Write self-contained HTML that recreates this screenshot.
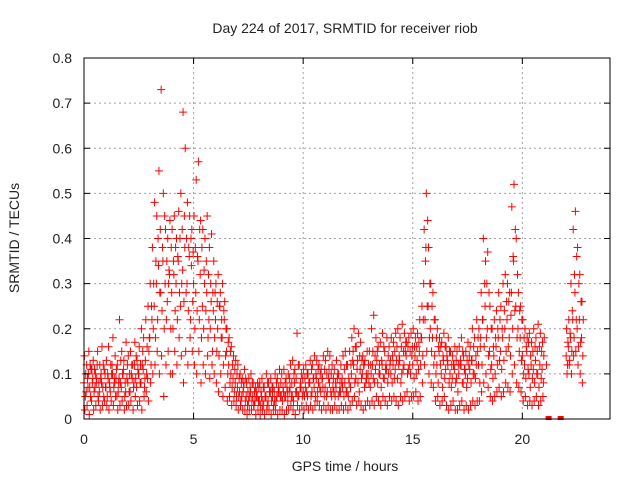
<!DOCTYPE html>
<html><head><meta charset="utf-8"><style>
body{margin:0;background:#fff}
svg text{font-family:"Liberation Sans",sans-serif;font-size:14px;fill:#222}
</style></head><body>
<svg id="chart" width="640" height="480">
<text x="345" y="33" text-anchor="middle">Day 224 of 2017, SRMTID for receiver riob</text>
<text x="345" y="471" text-anchor="middle">GPS time / hours</text>
<text transform="translate(19,238) rotate(-90)" text-anchor="middle">SRMTID / TECUs</text>
<g id="grid"></g>
<g id="marks"></g>
<rect x="84" y="58" width="526" height="361" fill="none" stroke="#000"/>
<g id="axes"></g>
</svg>
<script>
const xTicks=[0,5,10,15,20];
const yTicks=[0,0.1,0.2,0.3,0.4,0.5,0.6,0.7,0.8];
const yTickLabels=["0","0.1","0.2","0.3","0.4","0.5","0.6","0.7","0.8"];
const hourBlocks=[0,1,2,3,4,5,6,7,8,9,10,11,12,13,14,15,16,17,18,19,20,22];
const seriesA=[
[.08,.06,.10,.05,.09,.07,.12,.06,.08,.05],[.07,.09,.06,.10,.08,.05,.09,.07,.11,.06],
[.08,.06,.09,.12,.07,.10,.08,.11,.13,.09],[.18,.22,.25,.30,.34,.28,.35,.30,.26,.32],
[.28,.32,.30,.35,.25,.33,.38,.30,.36,.34],[.30,.28,.35,.32,.25,.30,.28,.22,.26,.24],
[.22,.20,.25,.18,.22,.15,.12,.10,.09,.08],[.07,.06,.05,.08,.05,.04,.06,.05,.04,.05],
[.04,.05,.03,.05,.04,.06,.05,.04,.05,.06],[.05,.06,.05,.04,.07,.05,.08,.06,.05,.07],
[.06,.07,.05,.08,.06,.07,.09,.08,.06,.07],[.07,.06,.08,.05,.06,.07,.05,.06,.07,.08],
[.06,.08,.10,.12,.09,.08,.11,.10,.07,.09],[.08,.10,.09,.11,.08,.10,.12,.09,.11,.10],
[.10,.12,.11,.09,.13,.10,.12,.14,.11,.10],[.12,.14,.13,.15,.18,.30,.38,.25,.20,.18],
[.14,.12,.15,.10,.13,.11,.12,.10,.09,.11],[.09,.10,.12,.08,.10,.09,.11,.13,.10,.12],
[.12,.18,.22,.25,.20,.15,.12,.14,.16,.18],[.15,.18,.20,.22,.18,.28,.35,.25,.20,.18],
[.14,.12,.15,.10,.12,.11,.13,.10,.12,.11],[.14,.16,.18,.22,.28,.20,.22,.18]];
const seriesB=[
[.14,.12,.15,.11,.13,.10,.15,.12,.16,.11],[.13,.16,.12,.18,.14,.12,.22,.15,.13,.17],
[.14,.15,.12,.17,.13,.16,.20,.18,.22,.25],[.30,.38,.48,.45,.55,.73,.50,.42,.40,.44],
[.42,.45,.40,.46,.50,.68,.60,.48,.45,.42],[.45,.53,.57,.44,.42,.40,.45,.38,.41,.35],
[.30,.32,.28,.30,.26,.20,.18,.16,.14,.13],[.12,.10,.09,.11,.08,.09,.10,.08,.07,.08],
[.08,.09,.07,.10,.08,.09,.07,.10,.09,.11],[.10,.11,.09,.10,.12,.13,.11,.19,.12,.10],
[.11,.12,.10,.13,.12,.14,.13,.12,.11,.14],[.13,.15,.14,.12,.11,.13,.10,.12,.14,.15],
[.12,.15,.18,.20,.16,.19,.17,.14,.13,.15],[.15,.20,.23,.18,.16,.17,.19,.15,.18,.16],
[.18,.17,.19,.20,.18,.21,.19,.17,.18,.19],[.20,.18,.19,.22,.25,.42,.50,.38,.30,.28],
[.22,.20,.18,.17,.19,.16,.18,.15,.14,.16],[.15,.16,.18,.14,.15,.17,.16,.20,.18,.22],
[.20,.28,.40,.35,.37,.25,.20,.22,.24,.28],[.25,.30,.32,.30,.28,.47,.52,.40,.28,.25],
[.22,.20,.18,.19,.17,.20,.18,.21,.19,.17],[.20,.22,.30,.42,.46,.38,.32,.26]];
const seriesC=[
[.02,.03,.01,.04,.02,.03,.05,.02,.03,.04],[.03,.02,.04,.03,.05,.02,.03,.04,.02,.03],
[.03,.04,.02,.05,.03,.04,.02,.05,.06,.04],[.08,.10,.12,.15,.10,.14,.05,.12,.15,.10],
[.10,.15,.12,.18,.14,.08,.15,.12,.18,.15],[.12,.10,.15,.08,.12,.10,.14,.09,.12,.10],
[.08,.06,.10,.05,.07,.04,.05,.03,.04,.03],[.02,.03,.02,.02,.01,.02,.02,.03,.01,.02],
[.01,.02,.01,.02,.02,.01,.02,.02,.01,.02],[.02,.01,.02,.02,.03,.02,.01,.03,.02,.03],
[.02,.03,.02,.03,.02,.03,.04,.03,.02,.03],[.02,.03,.02,.02,.03,.02,.02,.03,.02,.03],
[.02,.03,.04,.05,.03,.04,.03,.02,.03,.04],[.03,.04,.03,.05,.04,.03,.05,.04,.03,.05],
[.04,.05,.04,.03,.05,.04,.05,.06,.04,.05],[.05,.06,.04,.05,.08,.12,.15,.10,.08,.07],
[.04,.05,.03,.04,.05,.03,.02,.03,.04,.02],[.02,.03,.04,.02,.03,.02,.03,.04,.03,.04],
[.04,.06,.08,.10,.07,.05,.04,.05,.06,.07],[.05,.06,.08,.07,.06,.10,.12,.08,.07,.06],
[.04,.05,.03,.04,.03,.04,.05,.03,.04,.05],[.10,.12,.10,.14,.15,.12,.10,.08]];
const seriesD=[
[.05,.09,.07,.11,.06,.08,.04,.09,.07,.10],[.05,.08,.10,.07,.09,.06,.08,.10,.05,.09],
[.06,.10,.07,.09,.11,.08,.12,.07,.10,.15],[.12,.20,.18,.22,.28,.24,.20,.22,.30,.20],
[.20,.24,.22,.28,.30,.26,.28,.24,.22,.26],[.20,.24,.22,.18,.20,.24,.18,.20,.15,.18],
[.15,.14,.18,.12,.14,.10,.08,.07,.06,.05],[.05,.04,.06,.04,.03,.05,.04,.03,.05,.04],
[.03,.04,.05,.03,.06,.04,.03,.04,.06,.05],[.04,.05,.07,.06,.05,.04,.06,.05,.07,.05],
[.05,.06,.08,.05,.09,.05,.06,.07,.09,.05],[.05,.09,.06,.07,.05,.09,.06,.08,.05,.06],
[.05,.07,.13,.08,.11,.06,.09,.12,.08,.10],[.07,.12,.08,.13,.10,.07,.09,.11,.08,.12],
[.08,.09,.13,.12,.08,.11,.15,.10,.12,.14],[.09,.10,.11,.12,.14,.22,.25,.18,.15,.12],
[.10,.08,.12,.07,.09,.14,.08,.07,.12,.08],[.06,.12,.08,.11,.07,.12,.08,.10,.09,.15],
[.08,.12,.16,.18,.14,.11,.09,.10,.12,.13],[.11,.13,.15,.16,.14,.20,.24,.18,.15,.13],
[.10,.09,.11,.07,.09,.08,.10,.07,.09,.08],[.12,.13,.15,.18,.22,.16,.17,.14]];
const seriesE=[
[.10,.07,.12,.08,.11,.09,.08,.10,.12,.07],[.10,.07,.12,.09,.11,.08,.13,.10,.08,.12],
[.10,.12,.08,.14,.10,.12,.15,.09,.16,.18],[.25,.30,.35,.40,.42,.38,.45,.35,.33,.38],
[.35,.38,.36,.40,.42,.45,.40,.38,.40,.37],[.38,.36,.42,.38,.33,.35,.32,.30,.28,.28],
[.26,.25,.22,.24,.20,.17,.15,.12,.11,.10],[.09,.08,.07,.09,.06,.07,.08,.06,.06,.07],
[.06,.07,.05,.08,.06,.07,.06,.08,.07,.08],[.07,.08,.06,.09,.08,.10,.09,.12,.08,.09],
[.09,.10,.08,.11,.09,.10,.11,.10,.09,.11],[.10,.11,.10,.09,.08,.10,.08,.09,.11,.12],
[.09,.12,.15,.16,.13,.14,.13,.12,.10,.12],[.12,.15,.14,.15,.12,.13,.16,.12,.14,.13],
[.14,.15,.16,.14,.16,.15,.17,.16,.15,.16],[.16,.16,.17,.18,.22,.35,.44,.30,.25,.22],
[.18,.16,.16,.14,.16,.13,.15,.12,.12,.13],[.12,.13,.15,.11,.13,.14,.13,.16,.14,.18],
[.16,.22,.30,.30,.28,.20,.16,.18,.20,.22],[.20,.24,.26,.26,.23,.36,.42,.32,.24,.22],
[.18,.16,.17,.14,.15,.16,.15,.16,.15,.14],[.17,.19,.24,.32,.36,.30,.26,.22]];
const extraHours=[21.0,21.1,21.2,21.75];
const extraValues=[0.18,0.12,0,0];
const NS='http://www.w3.org/2000/svg';
const X0=84,X1=610,Y0=419,Y1=58,XMAX=24,YMAX=0.8;
function sx(h){return X0+(X1-X0)*h/XMAX;}
function sy(v){return Y0-(Y0-Y1)*v/YMAX;}
function mk(tag,attrs,parent){const e=document.createElementNS(NS,tag);for(const k in attrs)e.setAttribute(k,attrs[k]);parent.appendChild(e);return e;}
const grid=document.getElementById('grid'),axes=document.getElementById('axes'),marks=document.getElementById('marks');
xTicks.forEach(t=>{const x=sx(t);
 if(t>0){const g=mk('line',{x1:x,x2:x,y1:Y0,y2:Y1,stroke:'#a0a0a0','stroke-dasharray':'2,3'},grid);}
 mk('line',{x1:x,x2:x,y1:Y0,y2:Y0-6,stroke:'#000'},axes);mk('line',{x1:x,x2:x,y1:Y1,y2:Y1+6,stroke:'#000'},axes);
 const tx=mk('text',{x:x,y:444,'text-anchor':'middle'},axes);tx.textContent=String(t);
 });
yTicks.forEach((t,i)=>{const y=sy(t);
 if(i>0&&i<yTicks.length-1){const g=mk('line',{x1:X0,x2:X1,y1:y,y2:y,stroke:'#a0a0a0','stroke-dasharray':'2,3'},grid);}
 mk('line',{x1:X0,x2:X0+6,y1:y,y2:y,stroke:'#000'},axes);mk('line',{x1:X1,x2:X1-6,y1:y,y2:y,stroke:'#000'},axes);
 const tx=mk('text',{x:72,y:y+5,'text-anchor':'end'},axes);tx.textContent=yTickLabels[i];
 });
function plus(h,v){const x=sx(h),y=sy(v);
 const p=mk('path',{d:`M${x-4} ${y}H${x+4}M${x} ${y-4}V${y+4}`,stroke:'#f00','stroke-width':1,fill:'none'},marks);
 }
[seriesA,seriesB,seriesC,seriesD,seriesE].forEach((ser,si)=>{ser.forEach((blk,bi)=>{blk.forEach((v,i)=>{plus(hourBlocks[bi]+i/10+si*0.02,v);});});});
extraHours.forEach((h,i)=>{if(extraValues[i]===0){const r=mk('rect',{x:sx(h)-3,y:sy(0)-3,width:6,height:4,fill:'#f00'},marks);}else plus(h,extraValues[i]);});
</script>
</body></html>
